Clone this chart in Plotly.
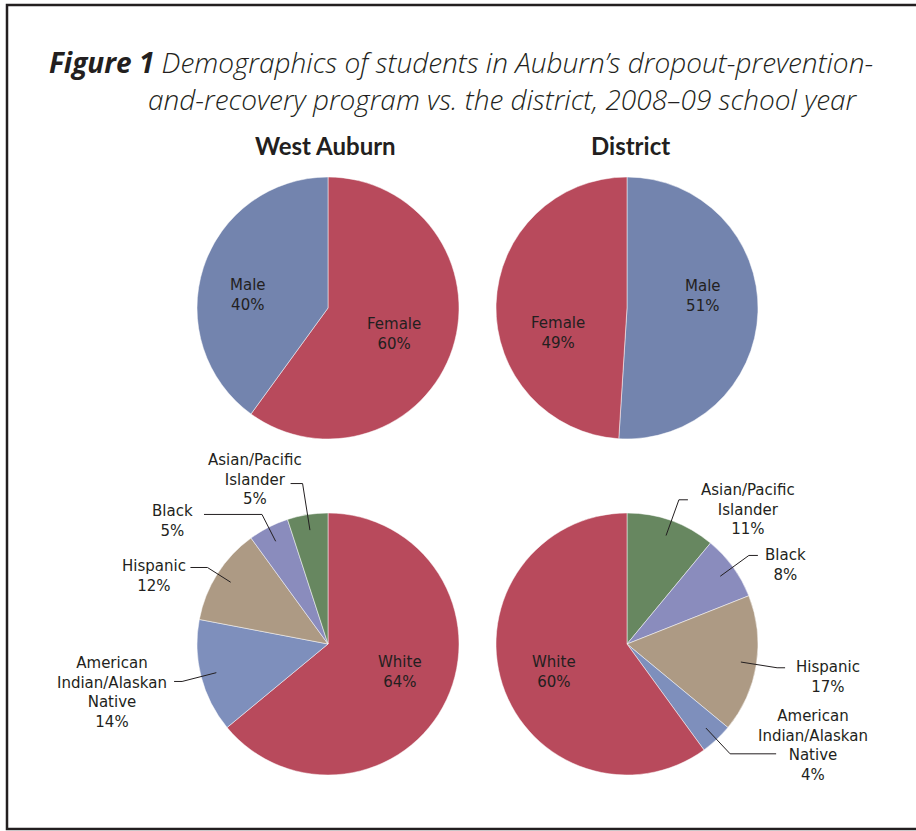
import math
import plotly.graph_objects as go

W, H = 916, 831

# ---- data -------------------------------------------------------------
panel_titles = ["West Auburn", "District"]

gender_west_labels = ["Female", "Male"]
gender_west_values = [60, 40]

gender_district_labels = ["Male", "Female"]
gender_district_values = [51, 49]

eth_west_labels = ["White", "American Indian/Alaskan Native", "Hispanic",
                   "Black", "Asian/Pacific Islander"]
eth_west_values = [64, 14, 12, 5, 5]

eth_district_labels = ["Asian/Pacific Islander", "Black", "Hispanic",
                       "American Indian/Alaskan Native", "White"]
eth_district_values = [11, 8, 17, 4, 60]

# ---- styling ----------------------------------------------------------
TEXT = "#231f20"
LABEL_FONT = "DejaVu Sans"

display_name = {
    "Female": "Female",
    "Male": "Male",
    "White": "White",
    "Hispanic": "Hispanic",
    "Black": "Black",
    "Asian/Pacific Islander": "Asian/Pacific<br>Islander",
    "American Indian/Alaskan Native": "American<br>Indian/Alaskan<br>Native",
}

slice_color = {
    "Female": "#b84a5c",
    "White": "#b84a5c",
    "Male": "#7384ae",
    "American Indian/Alaskan Native": "#7e8fbc",
    "Hispanic": "#ad9a84",
    "Black": "#8a8cbd",
    "Asian/Pacific Islander": "#678760",
}

R = 131  # pie radius in px
# pie centres in px (x, y from top); label placement per slice
pies = [
    dict(cx=328, cy=308, labels=gender_west_labels, values=gender_west_values,
         style={"Female": ("in", 0.54, 4), "Male": ("in", 0.62, -9)}),
    dict(cx=627, cy=308, labels=gender_district_labels, values=gender_district_values,
         style={"Male": ("in", 0.59, -11), "Female": ("in", 0.56, -22)}),
    dict(cx=328, cy=644, labels=eth_west_labels, values=eth_west_values,
         style={"White": ("in", 0.59, -4),
                "American Indian/Alaskan Native": ("out", 1.15, -8, -62, 11),
                "Hispanic": ("out", 1.09, -17, -36, 9),
                "Black": ("out", 1.11, -58, -31, 7),
                "Asian/Pacific Islander": ("out", 1.24, -12, -36, -4)}),
    dict(cx=627, cy=644, labels=eth_district_labels, values=eth_district_values,
         style={"Asian/Pacific Islander": ("out", 1.17, 9, 60, 10),
                "Black": ("out", 1.15, 9, 28, 10),
                "Hispanic": ("out", 1.16, 8, 43, 9),
                "American Indian/Alaskan Native": ("out", 1.15, 46, 37, -8),
                "White": ("in", 0.60, -3)}),
]


def px_x(x):
    return x / W


def px_y(y):
    return 1 - y / H


def polar(cx, cy, ang_deg, rad):
    a = math.radians(ang_deg)
    return cx + rad * math.sin(a), cy - rad * math.cos(a)


fig = go.Figure()
annotations = []
shapes = []

for p in pies:
    cx, cy = p["cx"], p["cy"]
    fig.add_trace(go.Pie(
        labels=p["labels"],
        values=p["values"],
        sort=False,
        direction="clockwise",
        rotation=0,
        textinfo="none",
        hoverinfo="label+percent",
        showlegend=False,
        marker=dict(colors=[slice_color[l] for l in p["labels"]],
                    line=dict(color="rgba(255,255,255,0.7)", width=0.7)),
        domain=dict(x=[px_x(cx - R), px_x(cx + R)],
                    y=[px_y(cy + R), px_y(cy - R)]),
    ))

    total = sum(p["values"])
    start = 0.0
    for lab, val in zip(p["labels"], p["values"]):
        span = 360.0 * val / total
        mid = start + span / 2
        start += span
        text = f"{display_name[lab]}<br>{round(100 * val / total)}%"
        st = p["style"][lab]
        if st[0] == "in":
            tx, ty = polar(cx, cy, mid + st[2], st[1] * R)
        else:
            _, elbow, hlen, tdx, tdy = st
            x0, y0 = polar(cx, cy, mid, 0.88 * R)
            x1, y1 = polar(cx, cy, mid, elbow * R)
            x2, y2 = x1 + hlen, y1
            shapes.append(dict(
                type="path", xref="paper", yref="paper",
                path=(f"M {px_x(x0)} {px_y(y0)} L {px_x(x1)} {px_y(y1)} "
                      f"L {px_x(x2)} {px_y(y2)}"),
                line=dict(color=TEXT, width=1)))
            tx, ty = x2 + tdx, y2 + tdy
        annotations.append(dict(
            x=px_x(tx), y=px_y(ty), xref="paper", yref="paper",
            text=text, showarrow=False, align="center",
            xanchor="center", yanchor="middle",
            font=dict(family=LABEL_FONT, size=15, color=TEXT)))

# panel headings
for title, cx in zip(panel_titles, [325, 630]):
    annotations.append(dict(
        x=px_x(cx), y=px_y(145), xref="paper", yref="paper",
        text=f"<b>{title}</b>", showarrow=False,
        xanchor="center", yanchor="middle",
        font=dict(family="Lato", size=24, color=TEXT)))

# figure caption (two lines, second one indented under the description)
CAPTION_FONT = dict(family="Open Sans", size=28, color=TEXT, weight=300)
annotations.append(dict(
    x=px_x(48), y=px_y(62), xref="paper", yref="paper",
    text="<b><i>Figure 1</i></b><i> Demographics of students in Auburn’s dropout-prevention-</i>",
    showarrow=False, xanchor="left", yanchor="middle", borderpad=0,
    font=CAPTION_FONT))
annotations.append(dict(
    x=px_x(147), y=px_y(99), xref="paper", yref="paper",
    text="<i>and-recovery program vs. the district, 2008–09 school year</i>",
    showarrow=False, xanchor="left", yanchor="middle", borderpad=0,
    font=CAPTION_FONT))

# frame around the figure
shapes.append(dict(type="rect", xref="paper", yref="paper",
                   x0=px_x(7), x1=px_x(930), y0=px_y(829), y1=px_y(5),
                   line=dict(color=TEXT, width=2.5), fillcolor="rgba(0,0,0,0)"))

fig.update_layout(
    width=W, height=H,
    margin=dict(l=0, r=0, t=0, b=0),
    paper_bgcolor="white",
    plot_bgcolor="white",
    annotations=annotations,
    shapes=shapes,
)

fig.write_html("out.html")
